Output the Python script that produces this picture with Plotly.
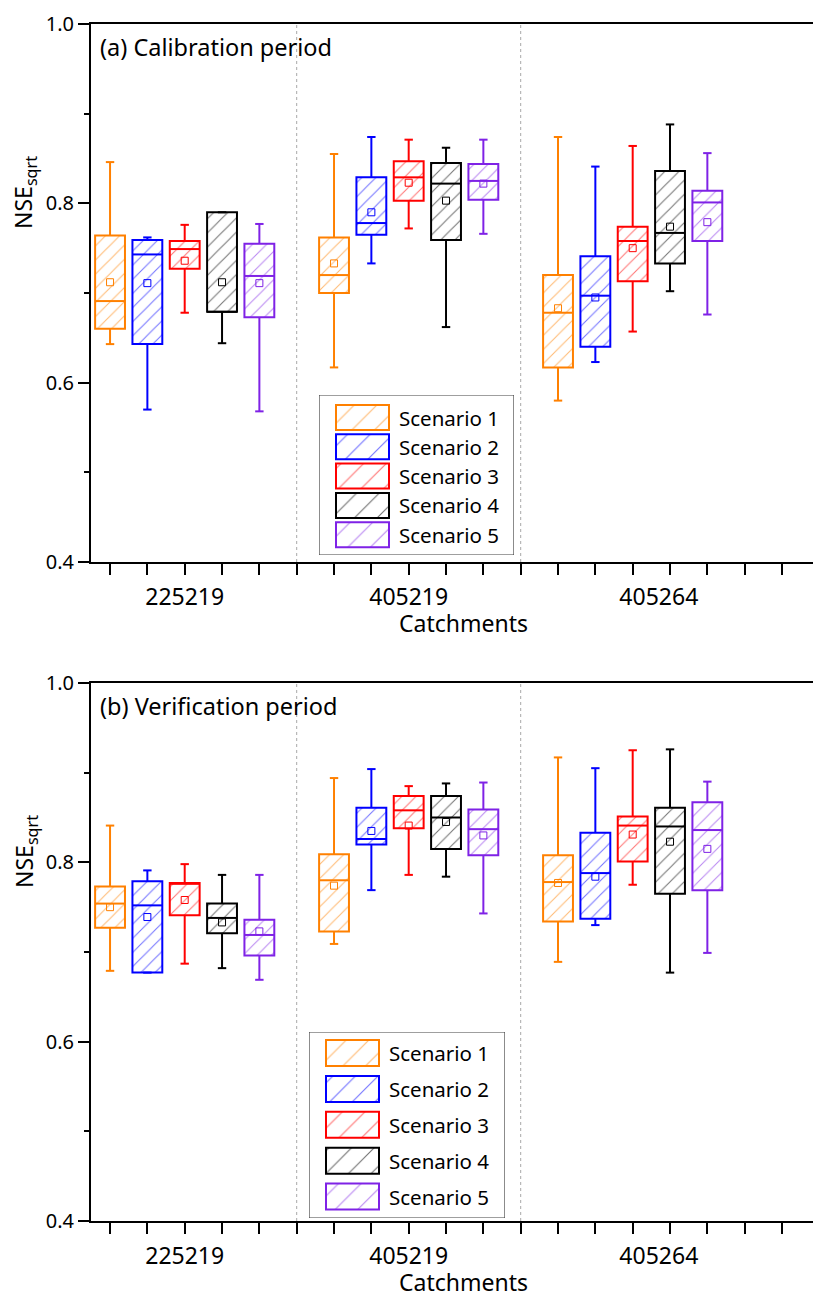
import plotly.graph_objects as go

# ---- data -------------------------------------------------------------
catchments = ["225219", "405219", "405264"]
scenarios = ["Scenario 1", "Scenario 2", "Scenario 3", "Scenario 4", "Scenario 5"]
colors = ["#FF8000", "#0000FF", "#FF0000", "#000000", "#7F22E6"]

# Calibration period: one row per scenario, one column per catchment
cal_upper = [[0.846, 0.855, 0.874], [0.762, 0.874, 0.841], [0.776, 0.871, 0.864],
             [0.790, 0.862, 0.888], [0.777, 0.871, 0.856]]
cal_q3 = [[0.764, 0.762, 0.720], [0.759, 0.829, 0.741], [0.758, 0.847, 0.774],
          [0.790, 0.845, 0.836], [0.755, 0.844, 0.814]]
cal_median = [[0.691, 0.720, 0.678], [0.743, 0.778, 0.697], [0.749, 0.829, 0.758],
              [0.679, 0.822, 0.767], [0.719, 0.825, 0.801]]
cal_q1 = [[0.660, 0.700, 0.617], [0.643, 0.765, 0.640], [0.727, 0.803, 0.713],
          [0.679, 0.759, 0.733], [0.673, 0.804, 0.758]]
cal_lower = [[0.643, 0.617, 0.580], [0.570, 0.733, 0.623], [0.678, 0.772, 0.657],
             [0.644, 0.662, 0.702], [0.568, 0.766, 0.676]]
cal_mean = [[0.712, 0.733, 0.683], [0.711, 0.790, 0.695], [0.736, 0.823, 0.750],
            [0.712, 0.803, 0.774], [0.711, 0.822, 0.779]]

# Verification period
ver_upper = [[0.841, 0.894, 0.917], [0.791, 0.904, 0.905], [0.798, 0.885, 0.925],
             [0.786, 0.888, 0.926], [0.786, 0.889, 0.890]]
ver_q3 = [[0.773, 0.809, 0.808], [0.779, 0.861, 0.833], [0.777, 0.874, 0.851],
          [0.754, 0.874, 0.861], [0.736, 0.859, 0.867]]
ver_median = [[0.754, 0.780, 0.778], [0.752, 0.826, 0.788], [0.776, 0.858, 0.841],
              [0.738, 0.850, 0.840], [0.719, 0.837, 0.836]]
ver_q1 = [[0.727, 0.723, 0.734], [0.677, 0.820, 0.737], [0.741, 0.838, 0.801],
          [0.721, 0.815, 0.765], [0.696, 0.808, 0.769]]
ver_lower = [[0.679, 0.709, 0.689], [0.677, 0.769, 0.730], [0.687, 0.786, 0.775],
             [0.682, 0.784, 0.677], [0.669, 0.743, 0.699]]
ver_mean = [[0.750, 0.774, 0.777], [0.739, 0.835, 0.784], [0.758, 0.841, 0.831],
            [0.733, 0.845, 0.823], [0.723, 0.830, 0.815]]

group_start = [1, 7, 13]          # x slot of the first box in each catchment group
label_pos = [3, 9, 15.7]          # where the catchment names sit on the x axis
separators = [6, 12]

# ---- styling ------------------------------------------------------------
FONT = "Noto Sans"
BOX_W = 0.8
HALF = BOX_W / 2
XR = [0.49, 19.83]

fig = go.Figure()


def add_panel(xa, ya, upper, q3, med, q1, lower, mean):
    for s, c in enumerate(colors):
        xs = [g + s for g in group_start]
        fig.add_trace(go.Bar(
            x=xs, base=q1[s], y=[a - b for a, b in zip(q3[s], q1[s])],
            width=BOX_W, xaxis=xa, yaxis=ya, showlegend=False, hoverinfo="skip",
            marker=dict(color="white", line=dict(color=c, width=2),
                        pattern=dict(shape="/", fillmode="replace", fgcolor=c,
                                     bgcolor="white", fgopacity=0.55,
                                     size=10, solidity=0.1)),
        ))
        # whiskers
        wx, wy = [], []
        for i, x in enumerate(xs):
            wx += [x, x, None, x, x, None]
            wy += [q3[s][i], upper[s][i], None, q1[s][i], lower[s][i], None]
        fig.add_trace(go.Scatter(x=wx, y=wy, mode="lines", xaxis=xa, yaxis=ya,
                                 line=dict(color=c, width=2), showlegend=False,
                                 hoverinfo="skip"))
        # whisker caps
        fig.add_trace(go.Scatter(
            x=xs + xs, y=upper[s] + lower[s], mode="markers", xaxis=xa, yaxis=ya,
            marker=dict(symbol="line-ew", size=6, line=dict(color=c, width=2)),
            showlegend=False, hoverinfo="skip"))
        # medians
        mx, my = [], []
        for i, x in enumerate(xs):
            mx += [x - HALF, x + HALF, None]
            my += [med[s][i], med[s][i], None]
        fig.add_trace(go.Scatter(x=mx, y=my, mode="lines", xaxis=xa, yaxis=ya,
                                 line=dict(color=c, width=2), showlegend=False,
                                 hoverinfo="skip"))
        # means
        fig.add_trace(go.Scatter(
            x=xs, y=mean[s], mode="markers", xaxis=xa, yaxis=ya,
            marker=dict(symbol="square-open", size=7, color=c, line=dict(width=1)),
            showlegend=False, hoverinfo="skip"))


add_panel("x", "y", cal_upper, cal_q3, cal_median, cal_q1, cal_lower, cal_mean)
add_panel("x2", "y2", ver_upper, ver_q3, ver_median, ver_q1, ver_lower, ver_mean)

# placeholders so the label axes get drawn
fig.add_trace(go.Scatter(x=[label_pos[0]], y=[None], xaxis="x3", yaxis="y",
                         showlegend=False, hoverinfo="skip"))
fig.add_trace(go.Scatter(x=[label_pos[0]], y=[None], xaxis="x4", yaxis="y2",
                         showlegend=False, hoverinfo="skip"))


# ---- hand-drawn legends (wide hatched swatches) ---------------------------
def add_legend(xa, ya, row_step, sw_h, top_pad):
    for s, c in enumerate(colors):
        top = top_pad + s * row_step
        fig.add_trace(go.Bar(
            x=[43.5], base=[top], y=[sw_h], width=53, xaxis=xa, yaxis=ya,
            showlegend=False, hoverinfo="skip",
            marker=dict(color="white", line=dict(color=c, width=2),
                        pattern=dict(shape="/", fillmode="replace", fgcolor=c,
                                     bgcolor="white", fgopacity=0.55,
                                     size=16, solidity=0.07)),
        ))
        fig.add_annotation(x=78, y=top + sw_h / 2, xref=xa, yref=ya,
                           text=scenarios[s], showarrow=False, xanchor="left",
                           yanchor="middle", font=dict(family=FONT, size=20.5, color="black"))


add_legend("x5", "y5", 29.3, 25, 10)
add_legend("x6", "y6", 35.9, 26, 8)

W, H = 813, 1298
L, R, T, B = 91, 0, 24, 77
PW, PH = W - L - R, H - T - B


def px_x(p):
    return (p - L) / PW


def px_y(p):
    return (H - B - p) / PH


axis_common = dict(range=XR, showgrid=False, zeroline=False, showline=True,
                   linecolor="black", linewidth=2, mirror=True,
                   tickmode="linear", tick0=1, dtick=1, ticks="outside",
                   ticklen=11, tickwidth=1.5, tickcolor="black",
                   showticklabels=False)
yaxis_common = dict(range=[0.4, 1.0], showgrid=False, zeroline=False, showline=True,
                    linecolor="black", linewidth=2, mirror=False,
                    tickmode="linear", tick0=0.4, dtick=0.2, ticks="outside",
                    ticklen=11, tickwidth=1.5, tickcolor="black", tickformat=".1f",
                    tickfont=dict(family=FONT, size=20, color="black"),
                    minor=dict(dtick=0.1, ticks="outside", ticklen=5,
                               tickwidth=1.5, tickcolor="black"))
label_axis = dict(range=XR, showgrid=False, zeroline=False, showline=False,
                  tickmode="array", tickvals=label_pos, ticktext=catchments,
                  ticks="outside", ticklen=14, tickcolor="rgba(0,0,0,0)",
                  tickfont=dict(family=FONT, size=23, color="black"))

ya_dom = [px_y(562), 1.0]
yb_dom = [0.0, px_y(683)]

fig.update_layout(
    width=W, height=H, margin=dict(l=L, r=R, t=T, b=B),
    paper_bgcolor="white", plot_bgcolor="white", barmode="overlay",
    showlegend=False,
    xaxis=dict(**axis_common, anchor="y", domain=[0, 1]),
    yaxis=dict(**yaxis_common, anchor="x", domain=ya_dom),
    xaxis2=dict(**axis_common, anchor="y2", domain=[0, 1]),
    yaxis2=dict(**yaxis_common, anchor="x2", domain=yb_dom),
    xaxis3=dict(**label_axis, overlaying="x", anchor="y"),
    xaxis4=dict(**label_axis, overlaying="x2", anchor="y2"),
    xaxis5=dict(range=[0, 195], domain=[px_x(319), px_x(514)], anchor="y5",
                visible=False),
    yaxis5=dict(range=[160, 0], domain=[px_y(555), px_y(395)], anchor="x5",
                visible=False),
    xaxis6=dict(range=[0, 196], domain=[px_x(309), px_x(505)], anchor="y6",
                visible=False),
    yaxis6=dict(range=[186, 0], domain=[px_y(1218), px_y(1032)], anchor="x6",
                visible=False),
)

# dotted separators between catchment groups
for xa, ya in (("x", "y"), ("x2", "y2")):
    for sx in separators:
        fig.add_shape(type="line", xref=xa, yref=f"{ya} domain", x0=sx, x1=sx,
                      y0=0, y1=1, line=dict(color="#A8A8A8", width=1, dash="dot"),
                      layer="below")

# legend frames
fig.add_shape(type="rect", xref="x5", yref="y5", x0=0, x1=195, y0=0, y1=160,
              line=dict(color="#404040", width=1.2))
fig.add_shape(type="rect", xref="x6", yref="y6", x0=0, x1=196, y0=0, y1=186,
              line=dict(color="#404040", width=1.2))

# titles and panel labels
for ya, tag in (("y", "(a) Calibration period"), ("y2", "(b) Verification period")):
    fig.add_annotation(x=px_x(98), y=(562 - 47) / 538, xref="paper",
                       yref=f"{ya} domain", text=tag, showarrow=False,
                       xanchor="left", yanchor="middle",
                       font=dict(family=FONT, size=23.5, color="black"))
    fig.add_annotation(x=px_x(463), y=-(623 - 562) / 538, xref="paper",
                       yref=f"{ya} domain", text="Catchments", showarrow=False,
                       xanchor="center", yanchor="middle",
                       font=dict(family=FONT, size=23, color="black"))
    fig.add_annotation(x=px_x(25), y=(562 - 193) / 538, xref="paper",
                       yref=f"{ya} domain", text="NSE<sub>sqrt</sub>",
                       showarrow=False, textangle=-90, xanchor="center",
                       yanchor="middle",
                       font=dict(family=FONT, size=23, color="black"))

fig.write_html("out.html")
